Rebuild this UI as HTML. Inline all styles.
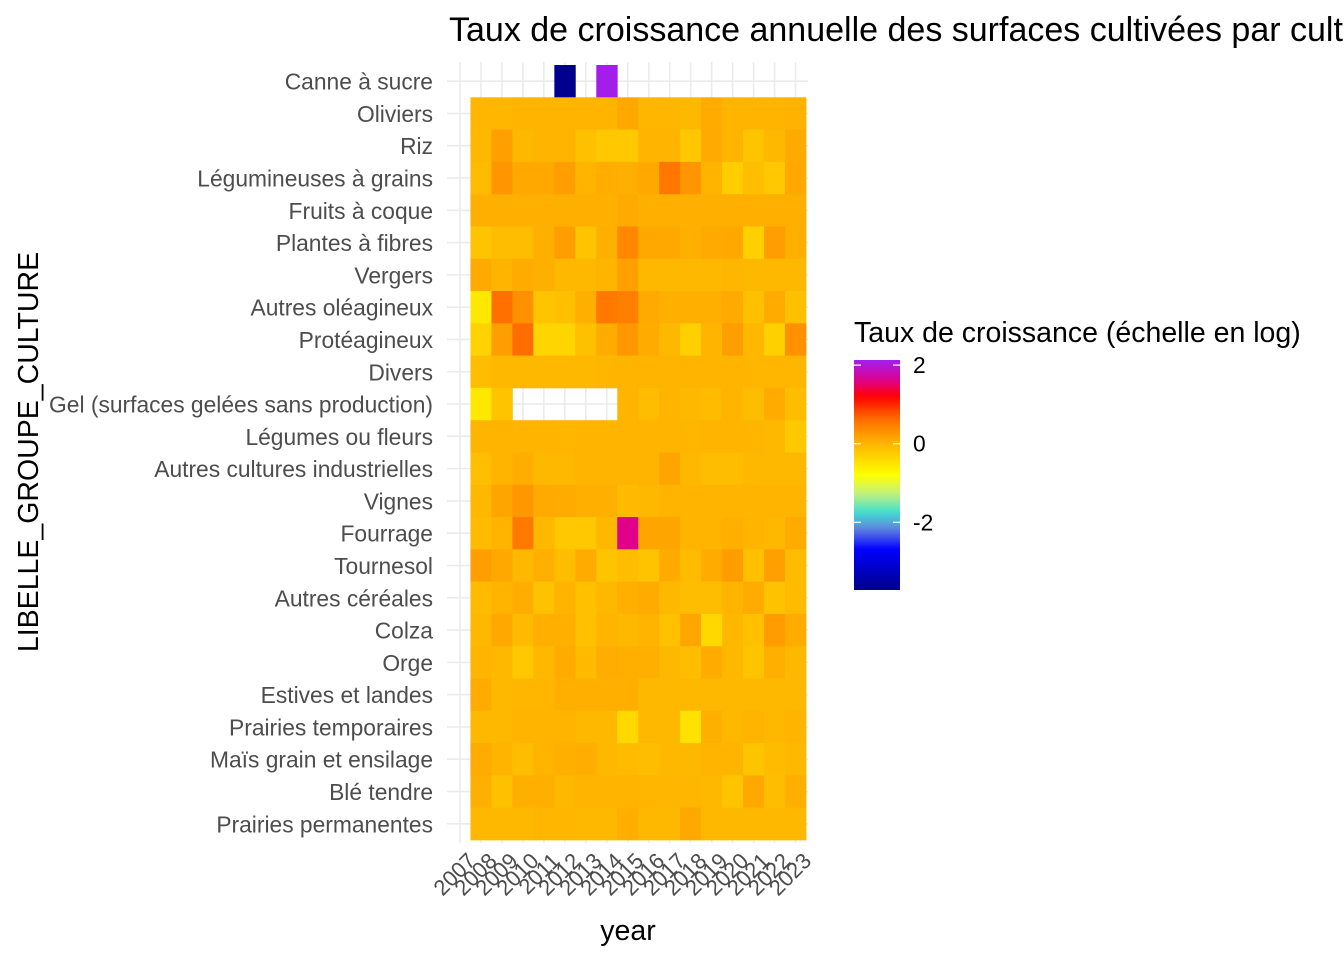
<!DOCTYPE html>
<html><head><meta charset="utf-8"><style>
body{margin:0;background:#fff;}
svg{display:block;font-family:"Liberation Sans",Arial,sans-serif;}
</style></head><body>
<svg id="chart" width="1344" height="960" viewBox="0 0 1344 960">
<defs>
<linearGradient id="lg" x1="0" y1="1" x2="0" y2="0"></linearGradient>
</defs>
<text x="449" y="41" font-size="34" fill="#000">Taux de croissance annuelle des surfaces cultivées par culture</text>
<g id="grid"></g>
<g id="tiles"></g>
<g id="ylabels"></g>
<g id="xlabels"></g>
<text x="628" y="940" font-size="28.5" text-anchor="middle" fill="#000">year</text>
<text transform="translate(38,452) rotate(-90)" font-size="28.5" text-anchor="middle" fill="#000">LIBELLE_GROUPE_CULTURE</text>
<g id="legend">
<text x="854" y="342" font-size="28.5" fill="#000">Taux de croissance (échelle en log)</text>
<rect id="lbar" x="854" y="360" width="46" height="230" fill="url(#lg)"/>
</g>
</svg>
<script>
const years=[2007,2008,2009,2010,2011,2012,2013,2014,2015,2016,2017,2018,2019,2020,2021,2022,2023];
const crops=["Canne à sucre","Oliviers","Riz","Légumineuses à grains","Fruits à coque","Plantes à fibres","Vergers","Autres oléagineux","Protéagineux","Divers","Gel (surfaces gelées sans production)","Légumes ou fleurs","Autres cultures industrielles","Vignes","Fourrage","Tournesol","Autres céréales","Colza","Orge","Estives et landes","Prairies temporaires","Maïs grain et ensilage","Blé tendre","Prairies permanentes"];
const N=null;
const values=[
[N,N,N,N,N,-3.7,N,2.1,N,N,N,N,N,N,N,N,N],
[N,-0.02,-0.02,0,0,0,0,0,0.1,-0.02,-0.02,-0.04,0.08,0,0,0,0.02],
[N,-0.04,0.18,-0.04,0,0,-0.13,-0.21,-0.21,0,0,-0.21,0.09,0,-0.17,-0.04,0.09],
[N,-0.07,0.27,0.11,0.11,0.19,0,0.06,0.04,0.11,0.54,0.27,0,-0.27,-0.12,-0.21,0.11],
[N,0.04,0.04,0.04,0.04,0.04,0.04,0.04,0.09,0.04,0.04,0.04,0.04,0.04,0.04,0.04,0.04],
[N,-0.17,-0.1,-0.1,0.04,0.19,-0.17,0.04,0.39,0.11,0.11,0.04,0.09,0.11,-0.3,0.19,0.04],
[N,0.09,0,0.08,0.04,-0.04,-0.04,0,0.18,-0.04,-0.04,-0.04,-0.04,-0.02,-0.04,-0.04,-0.04],
[N,-0.55,0.6,0.32,-0.17,-0.13,0.04,0.53,0.46,0.09,0.04,0.04,0.04,0.09,-0.13,0.08,-0.13],
[N,-0.32,0.19,0.62,-0.35,-0.35,-0.13,0.08,0.25,0.08,-0.04,-0.3,0,0.19,-0.04,-0.3,0.32],
[N,-0.1,-0.04,-0.04,-0.04,-0.04,-0.04,-0.02,0,0,0,0,0,0,-0.02,-0.02,-0.02],
[N,-0.55,-0.17,N,N,N,N,N,0,-0.1,0,-0.04,-0.07,0,-0.1,0.08,-0.1],
[N,0,0,0,0,-0.02,0,0,0,0,0,-0.02,0,0,-0.02,-0.04,-0.21],
[N,-0.12,0,0.05,-0.04,-0.04,0,0,0,0,0.13,-0.04,-0.1,-0.1,-0.04,-0.04,-0.04],
[N,-0.04,0.13,0.25,0.09,0.08,0.04,0.04,-0.07,-0.04,0,0,0,0,0,0,0],
[N,-0.07,0,0.53,-0.04,-0.21,-0.21,-0.04,1.6,0.13,0.13,0,0,0.04,0,-0.04,0.08],
[N,0.19,0.11,-0.04,0.04,-0.1,0.08,-0.17,-0.1,-0.17,0.08,-0.07,0.08,0.21,-0.13,0.18,-0.07],
[N,-0.07,0,0.05,-0.15,0,-0.13,-0.04,0.04,0.08,-0.04,-0.1,-0.1,0,0.08,-0.15,-0.07],
[N,-0.04,0.11,-0.07,0.04,0.04,-0.13,0,-0.04,0,-0.13,0.13,-0.38,-0.04,-0.13,0.21,0.08],
[N,0,-0.04,-0.21,-0.04,0.08,-0.07,0.05,0.04,0.04,-0.04,-0.1,0.08,-0.04,-0.17,0.04,-0.04],
[N,0.08,-0.04,-0.02,-0.02,0.04,0.04,0.04,0.04,-0.04,-0.04,-0.04,-0.04,-0.04,-0.04,-0.04,-0.04],
[N,-0.04,-0.04,0,0,0,-0.04,-0.04,-0.38,-0.04,-0.04,-0.49,0.04,-0.04,0,-0.04,0],
[N,0.08,0,-0.1,0,0.04,0.05,-0.04,-0.07,-0.1,-0.04,-0.04,0,0,-0.17,-0.07,-0.04],
[N,0.04,-0.13,0.04,0.04,-0.04,0,0,0,-0.02,-0.02,-0.02,-0.04,-0.17,0.11,-0.1,0.04],
[N,-0.04,-0.04,-0.04,-0.02,-0.02,-0.04,-0.04,0.04,-0.04,-0.04,0.11,-0.04,-0.04,-0.04,-0.04,-0.04]
];
const legendTicks=[2,0,-2];
const stops=[[-3.74,[0,0,139]],[-2.7,[0,0,255]],[-2.2,[96,128,224]],[-1.75,[64,224,208]],[-1.3,[192,240,128]],[-0.8,[255,255,0]],[0,[255,180,0]],[0.6,[255,112,0]],[1.2,[255,0,0]],[1.6,[224,0,138]],[2.13,[160,32,240]]];
const vmin=-3.74,vmax=2.13;
function color(v){
  if(v<=stops[0][0])return 'rgb('+stops[0][1]+')';
  for(let i=1;i<stops.length;i++){
    if(v<=stops[i][0]){const a=stops[i-1],b=stops[i];const t=(v-a[0])/(b[0]-a[0]);
      return 'rgb('+a[1].map((c,k)=>Math.round(c+(b[1][k]-c)*t)).join(',')+')';}
  }
  return 'rgb('+stops[stops.length-1][1]+')';
}
const NS='http://www.w3.org/2000/svg';
const x0=449.5,cw=20.97,y0=65,rh=32.29;
const xc=i=>x0+cw*(i+0.5);
const yc=j=>y0+rh*(j+0.5);
const lY=v=>443.7-(v)*39.3;
function mk(tag,attrs,parent){const e=document.createElementNS(NS,tag);for(const k in attrs)e.setAttribute(k,attrs[k]);parent.appendChild(e);return e;}
const grid=document.getElementById('grid'),tiles=document.getElementById('tiles'),yl=document.getElementById('ylabels'),xl=document.getElementById('xlabels');
years.forEach((yr,i)=>{
  const l=mk('line',{x1:xc(i),x2:xc(i),y1:62,y2:843,stroke:'#ebebeb','stroke-width':1.6},grid);
  
  
  const t=mk('text',{transform:`translate(${xc(i)+6},851) rotate(-45)`,'text-anchor':'end',dy:'0.72em','font-size':22,fill:'#4d4d4d'},xl);
  t.textContent=yr;
  
  
});
crops.forEach((c,j)=>{
  const l=mk('line',{x1:447,x2:808,y1:yc(j),y2:yc(j),stroke:'#ebebeb','stroke-width':1.6},grid);
  
  
  const t=mk('text',{x:433,y:yc(j)+8.5,'text-anchor':'end','font-size':22.8,fill:'#4d4d4d'},yl);
  t.textContent=c;
  
  
  values[j].forEach((v,i)=>{
    if(v===null)return;
    const r=mk('rect',{x:x0+cw*i,y:y0+rh*j,width:cw+0.4,height:rh+0.4,fill:color(v)},tiles);
    
    
  });
});
const lg=document.getElementById('lg');
for(let k=0;k<=40;k++){const v=vmin+(vmax-vmin)*k/40;mk('stop',{offset:(k/40),'stop-color':color(v)},lg);}
const leg=document.getElementById('legend');
legendTicks.forEach(v=>{
  const y=lY(v);
  mk('line',{x1:854,x2:861,y1:y,y2:y,stroke:'#fff','stroke-width':1.2},leg);
  mk('line',{x1:893,x2:900,y1:y,y2:y,stroke:'#fff','stroke-width':1.2},leg);
  const t=mk('text',{x:913,y:y+8,'font-size':22.8,fill:'#000'},leg);
  t.textContent=v;
  
  
});
</script>
</body></html>
